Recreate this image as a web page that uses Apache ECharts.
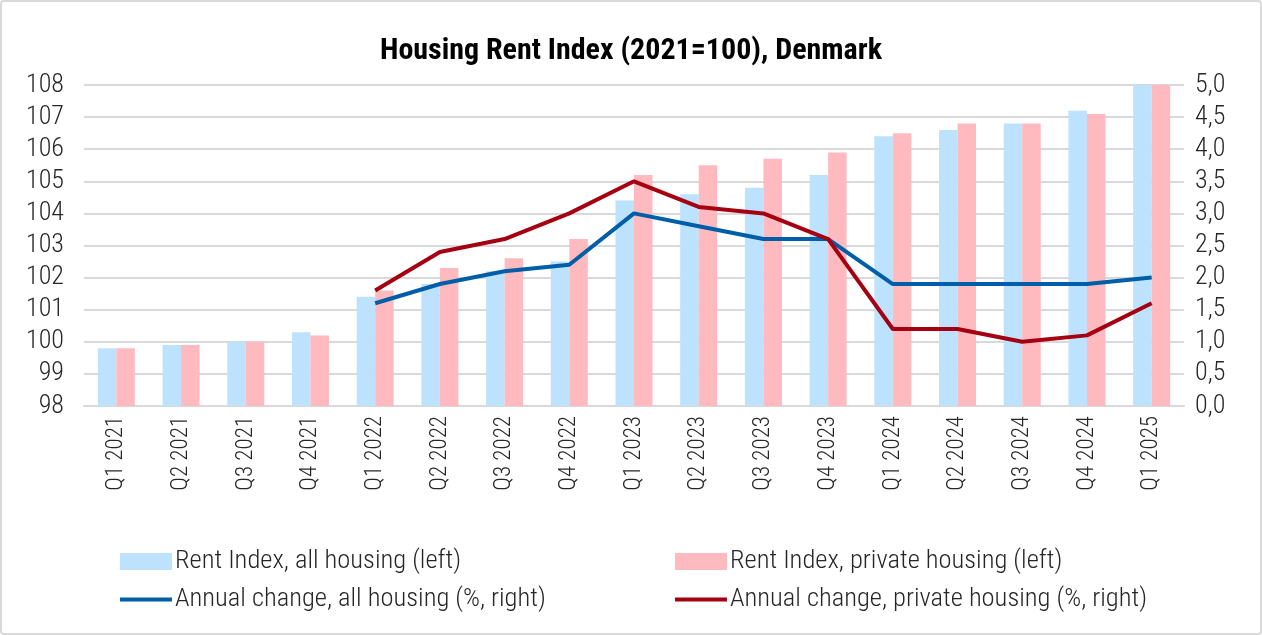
<!DOCTYPE html>
<html><head><meta charset="utf-8">
<script src="https://cdn.jsdelivr.net/npm/echarts@6/dist/echarts.min.js"></script>
<style>
html,body{margin:0;padding:0;background:#fff;}
#c{width:1262px;height:635px;box-sizing:border-box;border:2px solid #d9d9d9;border-radius:4px;}
</style></head><body>
<div id="c"></div>
<script>
const categories = ['Q1 2021','Q2 2021','Q3 2021','Q4 2021','Q1 2022','Q2 2022','Q3 2022','Q4 2022','Q1 2023','Q2 2023','Q3 2023','Q4 2023','Q1 2024','Q2 2024','Q3 2024','Q4 2024','Q1 2025'];
const rentAll = [99.8,99.9,100.0,100.3,101.4,101.8,102.2,102.5,104.4,104.6,104.8,105.2,106.4,106.6,106.8,107.2,108.0];
const rentPrivate = [99.8,99.9,100.0,100.2,101.6,102.3,102.6,103.2,105.2,105.5,105.7,105.9,106.5,106.8,106.8,107.1,108.0];
const changeAll = [null,null,null,null,1.6,1.9,2.1,2.2,3.0,2.8,2.6,2.6,1.9,1.9,1.9,1.9,2.0];
const changePrivate = [null,null,null,null,1.8,2.4,2.6,3.0,3.5,3.1,3.0,2.6,1.2,1.2,1.0,1.1,1.6];
const leftTicks = {min:98, max:108, interval:1};
const rightTicks = {min:0, max:5, interval:0.5};

const FONT = "'Roboto Condensed','Liberation Sans Narrow',Roboto,sans-serif";
const TXT = '#262626';
const names = ['Rent Index, all housing (left)','Rent Index, private housing (left)','Annual change, all housing (%, right)','Annual change, private housing (%, right)'];
const lineIcon = 'path://M0,0L52,0L52,4L0,4Z';

const chart = echarts.init(document.getElementById('c'));
chart.setOption({
  animation:false,
  textStyle:{fontFamily:FONT},
  title:{text:'Housing Rent Index (2021=100), Denmark', left:'center', top:29,
    textStyle:{fontFamily:FONT, fontSize:30, fontWeight:'bold', color:'#000'}},
  grid:{left:82, right:76, top:83, bottom:227, containLabel:false},
  legend:[
    {orient:'vertical', left:118, top:546, padding:0, itemWidth:52, itemHeight:17, itemGap:11,
     textStyle:{fontFamily:FONT, fontSize:26.5, fontWeight:300, color:TXT, padding:[0,0,0,-2]},
     data:[{name:names[0], icon:'rect'},{name:names[2], icon:lineIcon}]},
    {orient:'vertical', left:673, top:546, padding:0, itemWidth:52, itemHeight:17, itemGap:11,
     textStyle:{fontFamily:FONT, fontSize:26.5, fontWeight:300, color:TXT, padding:[0,0,0,-2]},
     data:[{name:names[1], icon:'rect'},{name:names[3], icon:lineIcon}]}
  ],
  xAxis:{type:'category', data:categories, boundaryGap:true,
    axisLine:{lineStyle:{color:'#d9d9d9', width:2}},
    axisTick:{inside:true, length:8, lineStyle:{color:'#d9d9d9', width:2}},
    axisLabel:{rotate:90, color:TXT, fontSize:23, fontWeight:300, fontFamily:FONT, margin:10, interval:0}},
  yAxis:[
    {type:'value', min:leftTicks.min, max:leftTicks.max, interval:leftTicks.interval,
     axisLine:{show:false}, axisTick:{show:false},
     splitLine:{lineStyle:{color:'#d9d9d9', width:2}},
     axisLabel:{color:TXT, fontSize:26, fontWeight:300, fontFamily:FONT, margin:20}},
    {type:'value', min:rightTicks.min, max:rightTicks.max, interval:rightTicks.interval,
     axisLine:{show:false}, axisTick:{show:false}, splitLine:{show:false},
     axisLabel:{color:TXT, fontSize:26, fontWeight:300, fontFamily:FONT, margin:11,
       formatter:v=>v.toFixed(1).replace('.',',')}}
  ],
  series:[
    {name:names[0], type:'bar', yAxisIndex:0, data:rentAll, barWidth:18.5, barGap:'0%',
     itemStyle:{color:'#bde2fd'}},
    {name:names[1], type:'bar', yAxisIndex:0, data:rentPrivate, barWidth:18.5, barGap:'0%',
     itemStyle:{color:'#ffbac0'}},
    {name:names[2], type:'line', yAxisIndex:1, data:changeAll, symbol:'none', connectNulls:false,
     lineStyle:{color:'#005ea8', width:4}, itemStyle:{color:'#005ea8'}},
    {name:names[3], type:'line', yAxisIndex:1, data:changePrivate, symbol:'none',
     lineStyle:{color:'#a50012', width:4}, itemStyle:{color:'#a50012'}}
  ]
});
</script></body></html>
